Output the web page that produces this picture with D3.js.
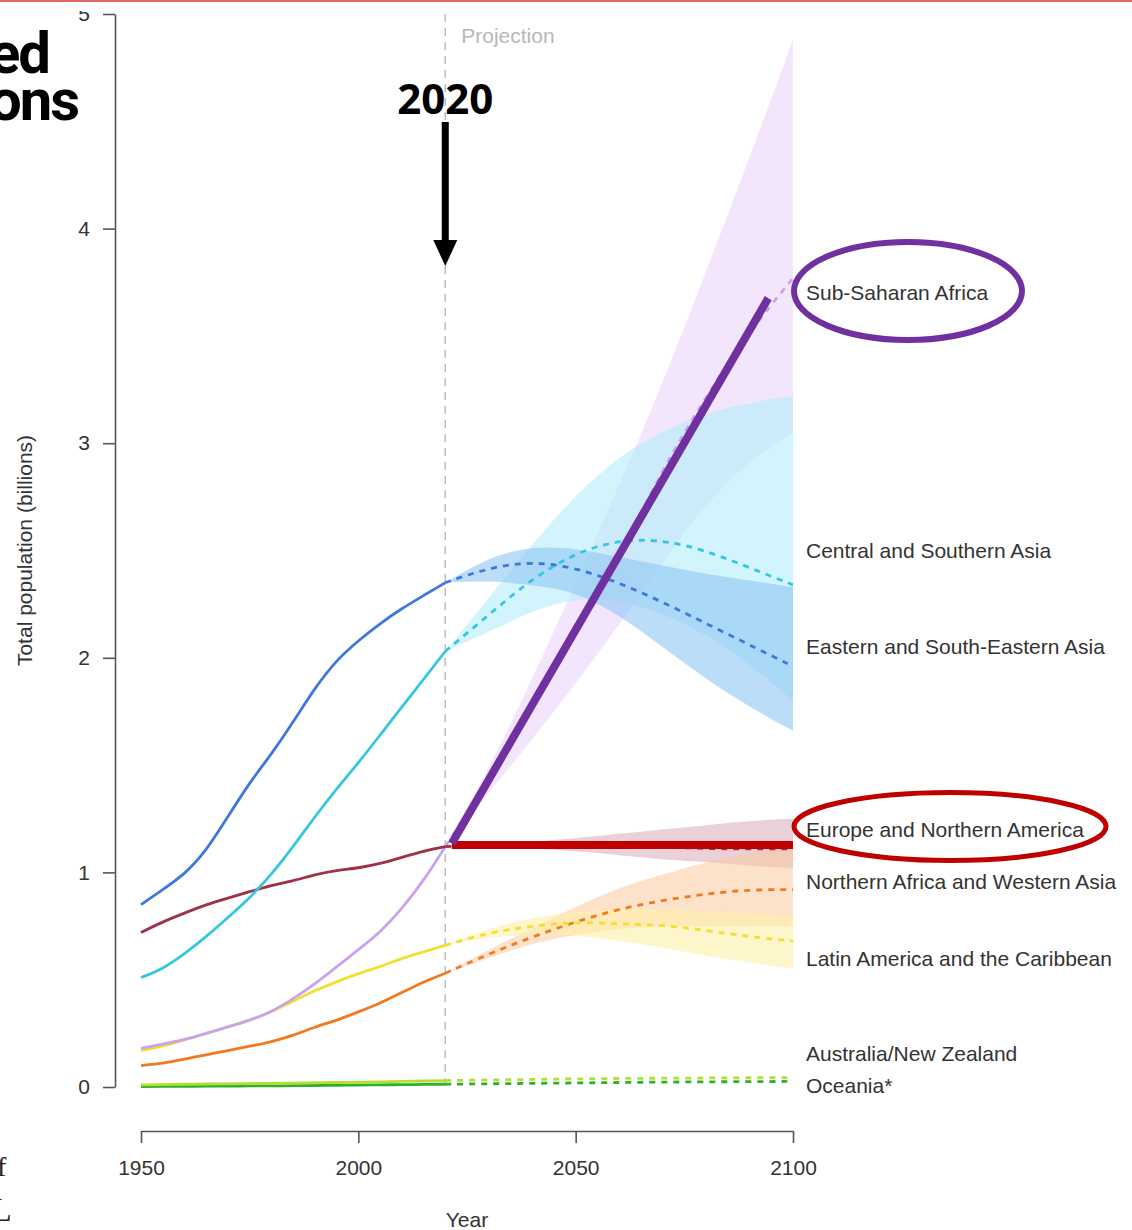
<!DOCTYPE html>
<html>
<head>
<meta charset="utf-8">
<script src="https://cdn.jsdelivr.net/npm/d3@7"></script>
<style>
  body { margin: 0; background: #fff; }
  svg { display: block; }
</style>
</head>
<body>
<svg id="chart" width="1132" height="1230"></svg>
<script>
// ---- data (population, billions) ----
const pastYears = [1950, 1955, 1960, 1965, 1970, 1975, 1980, 1985, 1990, 1995, 2000, 2005, 2010, 2015, 2020];
const projYears = [2020, 2030, 2040, 2050, 2060, 2070, 2080, 2090, 2100];

const regionNames = [
  "Sub-Saharan Africa",
  "Central and Southern Asia",
  "Eastern and South-Eastern Asia",
  "Europe and Northern America",
  "Northern Africa and Western Asia",
  "Latin America and the Caribbean",
  "Australia/New Zealand",
  "Oceania*"
];
const regionColors = ["#c9a2f0", "#35c6e0", "#3f78dc", "#9c3148", "#f07a22", "#f2df30", "#b3e030", "#2fae2f"];
const bandColors   = ["#e9d2fa", "#b4ecfa", "#8fc6f3", "#d9aab6", "#f9c8a0", "#fdf0a8", null, null];
const bandOpacity  = [0.55, 0.6, 0.6, 0.55, 0.55, 0.6, 0, 0];
// label positions at the right edge (billions)
const labelValues  = [3.70, 2.50, 2.05, 1.20, 0.955, 0.60, 0.154, 0.005];

const pastSSA  = [0.18, 0.20, 0.22, 0.25, 0.28, 0.31, 0.35, 0.41, 0.48, 0.56, 0.64, 0.72, 0.83, 0.96, 1.12];
const pastCSA  = [0.51, 0.55, 0.62, 0.70, 0.79, 0.88, 0.99, 1.12, 1.26, 1.39, 1.51, 1.64, 1.77, 1.90, 2.03];
const pastEA   = [0.85, 0.92, 0.99, 1.10, 1.26, 1.42, 1.55, 1.70, 1.86, 1.99, 2.08, 2.16, 2.23, 2.29, 2.35];
const pastEU   = [0.72, 0.77, 0.81, 0.85, 0.88, 0.91, 0.94, 0.96, 0.99, 1.01, 1.02, 1.04, 1.07, 1.10, 1.12];
const pastNAWA = [0.10, 0.11, 0.13, 0.15, 0.17, 0.19, 0.21, 0.24, 0.28, 0.31, 0.35, 0.39, 0.44, 0.49, 0.53];
const pastLAC  = [0.17, 0.19, 0.22, 0.25, 0.28, 0.31, 0.35, 0.40, 0.45, 0.49, 0.53, 0.56, 0.60, 0.63, 0.66];
const pastAUNZ = [0.010, 0.011, 0.013, 0.014, 0.015, 0.016, 0.017, 0.018, 0.020, 0.021, 0.022, 0.024, 0.026, 0.028, 0.030];
const pastOCE  = [0.002, 0.003, 0.003, 0.004, 0.004, 0.005, 0.005, 0.006, 0.007, 0.008, 0.009, 0.010, 0.011, 0.012, 0.013];

const projSSA  = [1.12, 1.43, 1.77, 2.12, 2.47, 2.88, 3.22, 3.52, 3.77];
const projCSA  = [2.03, 2.20, 2.37, 2.49, 2.55, 2.55, 2.50, 2.42, 2.34];
const projEA   = [2.35, 2.42, 2.45, 2.42, 2.35, 2.26, 2.16, 2.06, 1.96];
const projEU   = [1.12, 1.13, 1.13, 1.13, 1.12, 1.12, 1.11, 1.11, 1.11];
const projNAWA = [0.53, 0.62, 0.70, 0.77, 0.83, 0.87, 0.90, 0.92, 0.92];
const projLAC  = [0.66, 0.72, 0.75, 0.77, 0.76, 0.755, 0.73, 0.70, 0.68];
const projAUNZ = [0.030, 0.033, 0.035, 0.038, 0.040, 0.041, 0.042, 0.043, 0.044];
const projOCE  = [0.013, 0.015, 0.017, 0.019, 0.021, 0.023, 0.024, 0.025, 0.026];

// 95% projection intervals
const lowSSA   = [1.12, 1.37, 1.62, 1.88, 2.15, 2.45, 2.72, 2.92, 3.05];
const highSSA  = [1.12, 1.48, 1.90, 2.35, 2.80, 3.28, 3.80, 4.33, 4.88];
const lowCSA   = [2.03, 2.12, 2.22, 2.28, 2.27, 2.21, 2.11, 1.97, 1.80];
const highCSA  = [2.03, 2.28, 2.53, 2.76, 2.94, 3.06, 3.14, 3.19, 3.22];
const lowEA    = [2.35, 2.36, 2.34, 2.31, 2.20, 2.05, 1.90, 1.77, 1.66];
const highEA   = [2.35, 2.47, 2.52, 2.51, 2.47, 2.43, 2.39, 2.36, 2.33];
const lowEU    = [1.12, 1.12, 1.11, 1.10, 1.08, 1.06, 1.05, 1.03, 1.02];
const highEU   = [1.12, 1.13, 1.14, 1.16, 1.18, 1.20, 1.22, 1.24, 1.25];
const lowNAWA  = [0.53, 0.60, 0.67, 0.71, 0.74, 0.75, 0.75, 0.75, 0.75];
const highNAWA = [0.53, 0.64, 0.74, 0.84, 0.93, 0.99, 1.05, 1.09, 1.12];
const lowLAC   = [0.66, 0.70, 0.71, 0.71, 0.68, 0.65, 0.61, 0.58, 0.55];
const highLAC  = [0.66, 0.74, 0.79, 0.82, 0.83, 0.83, 0.82, 0.81, 0.80];

const xTicks = [1950, 2000, 2050, 2100];
const yTicks = [0, 1, 2, 3, 4, 5];
const projectionStart = 2020;

// highlighted trends
const trendSSA = { from: [2021.5, 1.135], to: [2094.3, 3.676] };
const trendEU  = { from: [2021.5, 1.128], to: [2100, 1.128] };

const pastSeries = [pastSSA, pastCSA, pastEA, pastEU, pastNAWA, pastLAC, pastAUNZ, pastOCE];
const projSeries = [projSSA, projCSA, projEA, projEU, projNAWA, projLAC, projAUNZ, projOCE];
const lowSeries  = [lowSSA, lowCSA, lowEA, lowEU, lowNAWA, lowLAC, null, null];
const highSeries = [highSSA, highCSA, highEA, highEU, highNAWA, highLAC, null, null];

// ---- layout ----
const svg = d3.select("#chart");
const font = "'Liberation Sans', Arial, Helvetica, sans-serif";

const x = d3.scaleLinear().domain([1950, 2100]).range([141, 793]);
const y = d3.scaleLinear().domain([0, 5]).range([1087, 14]);
const yAxisX = 115;
const xAxisY = 1131;

svg.append("rect").attr("width", 1132).attr("height", 1230).attr("fill", "#fff");

// uncertainty bands
const area = d3.area()
  .x(d => x(d.year)).y0(d => y(d.lo)).y1(d => y(d.hi))
  .curve(d3.curveBasis);

const bands = svg.append("g");
regionNames.forEach((name, i) => {
  if (!lowSeries[i]) return;
  const rows = projYears.map((yr, j) => ({ year: yr, lo: lowSeries[i][j], hi: highSeries[i][j] }));
  bands.append("path").datum(rows)
    .attr("d", area)
    .attr("fill", bandColors[i])
    .attr("fill-opacity", bandOpacity[i]);
});

// projection start marker
svg.append("line")
  .attr("x1", x(projectionStart)).attr("x2", x(projectionStart))
  .attr("y1", y(5)).attr("y2", y(0))
  .attr("stroke", "#bdbdbd").attr("stroke-width", 1.5)
  .attr("stroke-dasharray", "8,6");

svg.append("text")
  .attr("x", x(projectionStart) + 16).attr("y", 43)
  .attr("font-family", font).attr("font-size", 21)
  .attr("fill", "#b8b8b8")
  .text("Projection");

// series lines
const lineXY = d3.line().x(d => x(d.year)).y(d => y(d.v)).curve(d3.curveBasis);

const lines = svg.append("g").attr("fill", "none").attr("stroke-width", 2.8);
const order = [7, 6, 4, 5, 0, 3, 1, 2];
order.forEach(i => {
  const past = pastYears.map((yr, j) => ({ year: yr, v: pastSeries[i][j] }));
  const proj = projYears.map((yr, j) => ({ year: yr, v: projSeries[i][j] }));
  lines.append("path").datum(past)
    .attr("d", lineXY).attr("stroke", regionColors[i]);
  lines.append("path").datum(proj)
    .attr("d", lineXY).attr("stroke", regionColors[i])
    .attr("stroke-dasharray", "6,6");
});

// region labels
svg.append("g")
  .attr("font-family", font).attr("font-size", 21).attr("fill", "#333")
  .selectAll("text").data(regionNames).join("text")
  .attr("x", x(2100) + 13)
  .attr("y", (d, i) => y(labelValues[i]))
  .attr("dy", "0.35em")
  .text(d => d);

// axes
svg.append("defs").append("clipPath").attr("id", "yclip")
  .append("rect").attr("x", -200).attr("y", 11).attr("width", 400).attr("height", 1200);

const yAxis = svg.append("g")
  .attr("transform", `translate(${yAxisX},0)`)
  .attr("clip-path", "url(#yclip)")
  .call(d3.axisLeft(y).tickValues(yTicks).tickFormat(d3.format("d"))
    .tickSize(12).tickSizeOuter(0).tickPadding(13));

const xAxis = svg.append("g")
  .attr("transform", `translate(0,${xAxisY})`)
  .call(d3.axisBottom(x).tickValues(xTicks).tickFormat(d3.format("d"))
    .tickSize(12).tickSizeOuter(0).tickPadding(17));

[yAxis, xAxis].forEach(g => {
  g.select(".domain").attr("stroke", "#555").attr("stroke-width", 1.6);
  g.selectAll(".tick line").attr("stroke", "#555").attr("stroke-width", 1.6);
  g.selectAll(".tick text").attr("font-family", font).attr("font-size", 21).attr("fill", "#333");
});

svg.append("text")
  .attr("transform", `translate(32,${(y(0) + y(5)) / 2}) rotate(-90)`)
  .attr("text-anchor", "middle")
  .attr("font-family", font).attr("font-size", 21).attr("fill", "#333")
  .text("Total population (billions)");

svg.append("text")
  .attr("x", (x(1950) + x(2100)) / 2).attr("y", 1227)
  .attr("text-anchor", "middle")
  .attr("font-family", font).attr("font-size", 21).attr("fill", "#333")
  .text("Year");

// emphasis: trend strokes and rings
svg.append("line")
  .attr("x1", x(trendEU.from[0])).attr("y1", y(trendEU.from[1]))
  .attr("x2", x(trendEU.to[0])).attr("y2", y(trendEU.to[1]))
  .attr("stroke", "#c00000").attr("stroke-width", 8);

svg.append("line")
  .attr("x1", x(trendSSA.from[0])).attr("y1", y(trendSSA.from[1]))
  .attr("x2", x(trendSSA.to[0])).attr("y2", y(trendSSA.to[1]))
  .attr("stroke", "#7030a0").attr("stroke-width", 8);

svg.append("ellipse")
  .attr("cx", x(2100) + 115).attr("cy", y(labelValues[0]) - 2)
  .attr("rx", 114).attr("ry", 49)
  .attr("fill", "none").attr("stroke", "#7030a0").attr("stroke-width", 6);

svg.append("ellipse")
  .attr("cx", x(2100) + 157).attr("cy", y(labelValues[3]) - 3)
  .attr("rx", 156).attr("ry", 34)
  .attr("fill", "none").attr("stroke", "#c00000").attr("stroke-width", 5);

// "2020" callout arrow
const ax = x(projectionStart);
svg.append("text")
  .attr("x", ax).attr("y", 114)
  .attr("text-anchor", "middle")
  .attr("font-family", "'Open Sans', 'Liberation Sans', sans-serif")
  .attr("font-weight", 700).attr("font-size", 42).attr("fill", "#000")
  .text("2020");
svg.append("line")
  .attr("x1", ax).attr("x2", ax).attr("y1", 122).attr("y2", 244)
  .attr("stroke", "#000").attr("stroke-width", 7);
svg.append("path")
  .attr("d", `M${ax - 12},240 L${ax + 12},240 L${ax},266 Z`)
  .attr("fill", "#000");

// page frame pieces
svg.append("rect").attr("x", 0).attr("y", 0).attr("width", 1132).attr("height", 2).attr("fill", "#e06666");

svg.append("g")
  .attr("font-family", "Roboto, 'Liberation Sans', sans-serif")
  .attr("font-weight", 700).attr("font-size", 58).attr("fill", "#000")
  .attr("text-anchor", "end").attr("letter-spacing", -2)
  .selectAll("text").data([["ed", 49, 73], ["ons", 78, 120]]).join("text")
  .attr("x", d => d[1]).attr("y", d => d[2]).text(d => d[0]);

svg.append("g")
  .attr("font-family", "'Liberation Serif', 'DejaVu Serif', serif").attr("fill", "#222")
  .selectAll("text").data([["f", -3, 1176, 28], ["L", -9, 1221, 34]]).join("text")
  .attr("x", d => d[1]).attr("y", d => d[2]).attr("font-size", d => d[3]).text(d => d[0]);
</script>
</body>
</html>
